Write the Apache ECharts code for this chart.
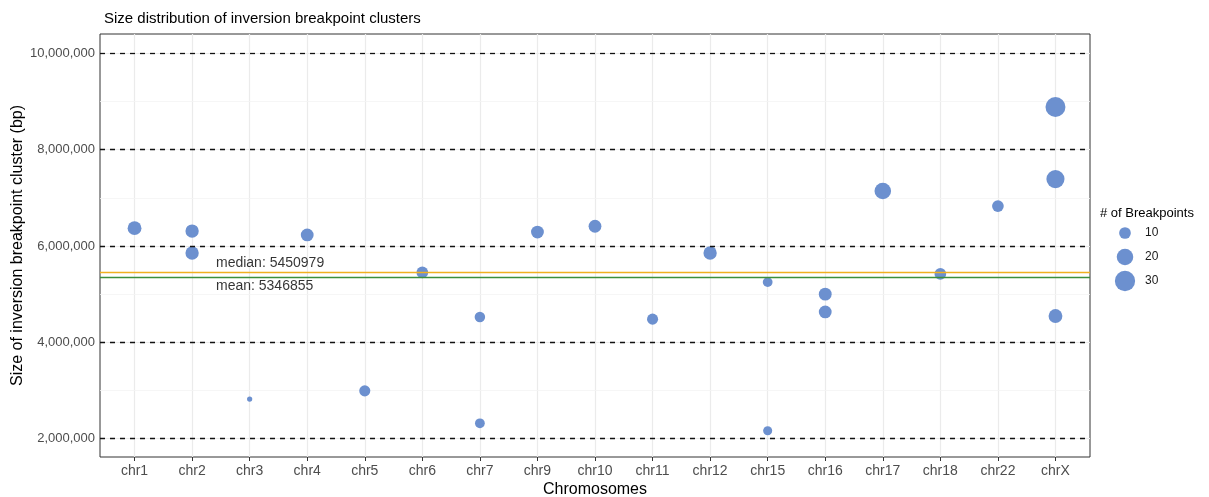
<!DOCTYPE html>
<html>
<head>
<meta charset="utf-8">
<script src="https://cdn.jsdelivr.net/npm/echarts@6/dist/echarts.min.js"></script>
<style>html,body{margin:0;padding:0;background:#fff}#c{width:1209px;height:497px}</style>
</head>
<body>
<div id="c"></div>
<script>
const categories = ['chr1','chr2','chr3','chr4','chr5','chr6','chr7','chr9','chr10','chr11','chr12','chr15','chr16','chr17','chr18','chr22','chrX'];
const clusterChrom = ['chr1','chr2','chr2','chr3','chr4','chr5','chr6','chr7','chr7','chr9','chr10','chr11','chr12','chr15','chr15','chr16','chr16','chr17','chr18','chr22','chrX','chrX','chrX'];
const clusterSize = [6370000,6310000,5855000,2820000,6230000,2990000,5450979,4525000,2316000,6290000,6410000,4480000,5855000,5250000,2163000,5000000,4630000,7143000,5420000,6830000,8888000,7390000,4545000];
const clusterBreakpoints = [14,13,13,2,12,9,10,8,7,12,12,9,13,7,6,12,12,20,10,10,29,24,14];
const legendCounts = ['10','20','30'];
const yTicks = [2000000,4000000,6000000,8000000,10000000];
const yMinor = [3000000,5000000,7000000,9000000];
const medianSize = 5450979;
const meanSize = 5346855;

const FONT = '"Liberation Sans", Arial, Helvetica, sans-serif';
const PT = '#6c90cf';
const sz = n => 3.7 * Math.sqrt(n);
const fmt = v => Math.round(v).toString().replace(/\B(?=(\d{3})+(?!\d))/g, ',');
const catIdx = categories.map((c, i) => i);

const points = clusterChrom.map((c, i) => [categories.indexOf(c), clusterSize[i], clusterBreakpoints[i]]);

const chart = echarts.init(document.getElementById('c'), null, {renderer: 'canvas'});
chart.setOption({
  animation: false,
  textStyle: {fontFamily: FONT},
  title: [
    {text: 'Size distribution of inversion breakpoint clusters', left: 99, top: 6,
     textStyle: {fontSize: 15, fontWeight: 'normal', color: '#000', fontFamily: FONT}},
    {text: '# of Breakpoints', left: 1095, top: 202,
     textStyle: {fontSize: 13, fontWeight: 'normal', color: '#000', fontFamily: FONT}}
  ],
  grid: [
    {left: 100, right: 119, top: 34, bottom: 40, show: true, borderColor: '#333', borderWidth: 1, backgroundColor: 'transparent', containLabel: false, outerBoundsMode: 'none'},
    {left: 1108, top: 221, width: 34, height: 72, show: false, containLabel: false, outerBoundsMode: 'none'}
  ],
  xAxis: [
    {type: 'value', gridIndex: 0, min: -0.6, max: 16.6,
     name: 'Chromosomes', nameLocation: 'middle', nameGap: 25, nameMoveOverlap: false,
     nameTextStyle: {fontSize: 16, color: '#000', fontFamily: FONT},
     axisLine: {show: false},
     axisTick: {show: true, customValues: catIdx, length: 4, lineStyle: {color: '#333'}},
     axisLabel: {customValues: catIdx, formatter: v => categories[Math.round(v)], fontSize: 14, color: '#4d4d4d', margin: 7, fontFamily: FONT},
     splitLine: {show: true, lineStyle: {color: '#ebebeb', width: 1.2}}},
    {type: 'value', gridIndex: 1, min: -1, max: 1, show: false}
  ],
  yAxis: [
    {type: 'value', gridIndex: 0, min: 1616000, max: 10405000,
     name: 'Size of inversion breakpoint cluster (bp)', nameLocation: 'middle', nameGap: 74, nameMoveOverlap: false,
     nameTextStyle: {fontSize: 16, color: '#000', fontFamily: FONT},
     axisLine: {show: false},
     axisTick: {show: true, customValues: yTicks, length: 4, lineStyle: {color: '#333'}},
     axisLabel: {customValues: yTicks, formatter: v => fmt(v), fontSize: 13, color: '#4d4d4d', margin: 5, fontFamily: FONT},
     splitLine: {show: true, lineStyle: {color: '#ebebeb', width: 1.2}}},
    {type: 'category', gridIndex: 1, data: legendCounts, inverse: true, position: 'right',
     axisLine: {show: false}, axisTick: {show: false}, splitLine: {show: false},
     axisLabel: {fontSize: 12, color: '#1a1a1a', margin: 3, fontFamily: FONT}}
  ],
  series: [
    {type: 'scatter', xAxisIndex: 0, yAxisIndex: 0, z: 2,
     data: points,
     symbolSize: d => sz(d[2]),
     itemStyle: {color: PT, opacity: 1},
     silent: true},
    {type: 'line', xAxisIndex: 0, yAxisIndex: 0, data: [], z: 1, silent: true,
     markLine: {silent: true, symbol: 'none', label: {show: false}, z: 1,
       lineStyle: {color: '#f4f4f4', width: 0.8, type: 'solid'},
       data: yMinor.map(v => ({yAxis: v}))}},
    {type: 'line', xAxisIndex: 0, yAxisIndex: 0, data: [], z: 5, silent: true,
     markLine: {silent: true, symbol: 'none', label: {show: false}, z: 5,
       lineStyle: {color: '#111', width: 1.3, type: [5, 5]},
       data: yTicks.map(v => ({yAxis: v}))}},
    {type: 'line', xAxisIndex: 0, yAxisIndex: 0, data: [], z: 6, silent: true,
     markLine: {silent: true, symbol: 'none', label: {show: false}, z: 6,
       data: [
         {yAxis: medianSize, lineStyle: {color: '#f0b020', width: 1.3, type: 'solid'}},
         {yAxis: meanSize, lineStyle: {color: '#3b8f3b', width: 1.3, type: 'solid'}}
       ]}},
    {type: 'scatter', xAxisIndex: 0, yAxisIndex: 0, z: 7, silent: true, symbolSize: 0,
     data: [
       {value: [1.415, 5640000], label: {show: true, formatter: 'median: ' + medianSize}},
       {value: [1.415, 5175000], label: {show: true, formatter: 'mean: ' + meanSize}}
     ],
     label: {position: 'right', distance: 0, fontSize: 14, color: '#000', fontFamily: FONT, align: 'left', verticalAlign: 'middle'}},
    {type: 'scatter', xAxisIndex: 1, yAxisIndex: 1, silent: true,
     data: legendCounts.map(c => [0, c]),
     symbolSize: d => sz(Number(d[1])),
     itemStyle: {color: PT, opacity: 1}}
  ]
});
</script>
</body>
</html>
